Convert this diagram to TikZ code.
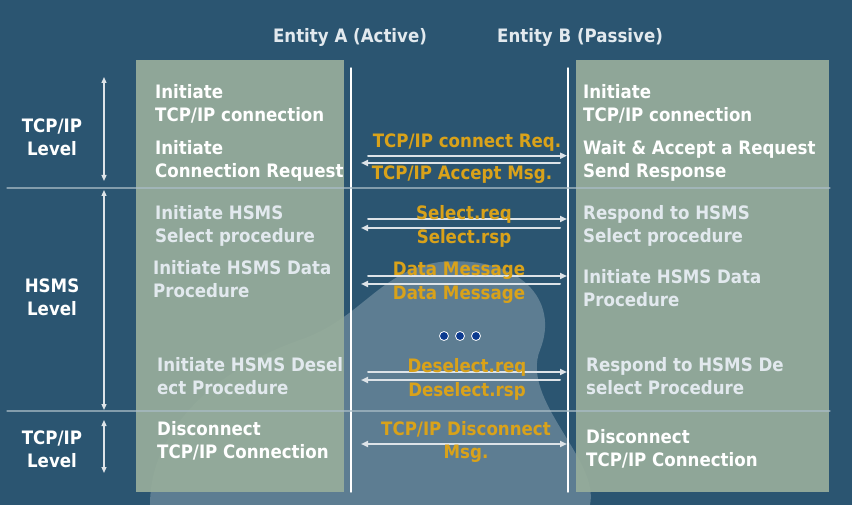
\documentclass[tikz,border=0pt]{standalone}
\usepackage{fontspec}
\setmainfont{DejaVu Sans Condensed}
\usepackage{tikz}
\usetikzlibrary{arrows.meta,positioning,calc}
\definecolor{bgblue}{HTML}{2B5571}
\definecolor{bglight}{HTML}{6E8B9E}
\definecolor{boxgreen}{HTML}{97AD9B}
\definecolor{msggold}{HTML}{D9A21A}
\definecolor{hsmsgray}{HTML}{E2E9EE}
\definecolor{arrowgray}{HTML}{DDE3E8}
\definecolor{sepgray}{HTML}{A9BCC6}
\definecolor{dotblue}{HTML}{0B3A8F}
\tikzset{
    every picture/.style={line cap=round,line join=round},
    entitybox/.style={fill=boxgreen,fill opacity=0.93,draw=none},
    lifeline/.style={draw=white,line width=1.4pt},
    sepline/.style={draw=sepgray,line width=1.3pt,opacity=0.7},
    levelarrow/.style={{Triangle[length=6pt,width=5pt]}-{Triangle[length=6pt,width=5pt]},
      draw=arrowgray,line width=1.2pt},
    msgarrow/.style={-{Triangle[length=7pt,width=6pt]},draw=arrowgray,line width=2pt},
    bigfont/.style={font=\bfseries\fontsize{18.5}{23}\selectfont},
    leveltext/.style={bigfont,text=white,align=center},
    headtext/.style={bigfont,text=hsmsgray},
    steptext/.style={bigfont,text=white,align=left,anchor=base west,inner sep=0pt},
    hsmstext/.style={steptext,text=hsmsgray},
    msgtext/.style={bigfont,text=msggold,align=center,anchor=base,inner sep=0pt},
    dot/.style={circle,fill=dotblue,draw=white,line width=0.8pt,minimum size=9pt,inner sep=0pt}
}
\begin{document}
\begin{tikzpicture}[x=1pt,y=-1pt]
  % background
  \useasboundingbox (0,0) rectangle (852,505);
  \fill[bgblue] (0,0) rectangle (852,505);
  \fill[bglight,opacity=0.75] (150,505) .. controls (150,430) and (215,370) .. (300,340)
    .. controls (360,320) and (380,270) .. (440,262)
    .. controls (520,255) and (560,300) .. (540,350)
    .. controls (520,400) and (600,460) .. (590,505) -- cycle;

  % entity boxes and lifelines
  \fill[entitybox] (136,60) rectangle (344,492);
  \fill[entitybox] (576,60) rectangle (829,492);
  \coordinate (Atop) at (351,68);
  \coordinate (Abot) at (351,492);
  \coordinate (Btop) at (568,68);
  \coordinate (Bbot) at (568,492);
  \draw[lifeline] (Atop) -- (Abot);
  \draw[lifeline] (Btop) -- (Bbot);
  \node[headtext] (entA) at (350,37) {Entity A (Active)};
  \node[headtext] (entB) at (580,37) {Entity B (Passive)};

  % level separators
  \coordinate (s1l) at (7,188);
  \coordinate (s1r) at (830,188);
  \coordinate (s2l) at (7,411);
  \coordinate (s2r) at (830,411);
  \draw[sepline] (s1l) -- (s1r);
  \draw[sepline] (s2l) -- (s2r);

  % levels
  \foreach \t/\b/\n in {77/181/1,190/410/2,420/473/3}{
    \coordinate (lv\n t) at (104,\t);
    \coordinate (lv\n b) at (104,\b);
    \draw[levelarrow] (lv\n t) -- (lv\n b);}
  \node[leveltext] (lvl1) at (52,137) {TCP/IP\\Level};
  \node[leveltext] (lvl2) at (52,297) {HSMS\\Level};
  \node[leveltext] (lvl3) at (52,449) {TCP/IP\\Level};

  % entity A steps
  \node[steptext] (a1) at (155,122) {Initiate\\TCP/IP connection};
  \node[steptext] (a2) at (155,178) {Initiate\\Connection Request};
  \node[hsmstext] (a3) at (155,243) {Initiate HSMS\\Select procedure};
  \node[hsmstext] (a4) at (153,298) {Initiate HSMS Data\\Procedure};
  \node[hsmstext] (a5) at (157,394) {Initiate HSMS Desel\\ect Procedure};
  \node[steptext] (a6) at (157,458) {Disconnect\\TCP/IP Connection};

  % entity B steps
  \node[steptext] (b1) at (583,122) {Initiate\\TCP/IP connection};
  \node[steptext] (b2) at (583,178) {Wait \& Accept a Request\\Send Response};
  \node[hsmstext] (b3) at (583,243) {Respond to HSMS\\Select procedure};
  \node[hsmstext] (b4) at (583,306) {Initiate HSMS Data\\Procedure};
  \node[hsmstext] (b5) at (586,394) {Respond to HSMS De\\select Procedure};
  \node[steptext] (b6) at (586,466) {Disconnect\\TCP/IP Connection};

  % messages
  \foreach \r/\l/\n in {155.7/163/1,219/228/2,276/284/3,372/380/4}{
    \coordinate (req\n s) at (368,\r);
    \coordinate (req\n e) at (567,\r);
    \coordinate (rsp\n s) at (560,\l);
    \coordinate (rsp\n e) at (361,\l);
    \draw[msgarrow] (req\n s) -- (req\n e);
    \draw[msgarrow] (rsp\n s) -- (rsp\n e);}
  \coordinate (discA) at (361,444);
  \coordinate (discB) at (567,444);
  \draw[msgarrow,{Triangle[length=7pt,width=6pt]}-{Triangle[length=7pt,width=6pt]}] (discA) -- (discB);
  \node[msgtext] (m1) at (467,148) {TCP/IP connect Req.};
  \node[msgtext] (m2) at (462,180) {TCP/IP Accept Msg.};
  \node[msgtext] (m3) at (464,220) {Select.req};
  \node[msgtext] (m4) at (464,244) {Select.rsp};
  \node[msgtext] (m5) at (459,276) {Data Message};
  \node[msgtext] (m6) at (459,300) {Data Message};
  \node[msgtext] (m7) at (467,372) {Deselect.req};
  \node[msgtext] (m8) at (467,396) {Deselect.rsp};
  \node[msgtext] (m9) at (466,458) {TCP/IP Disconnect\\Msg.};

  % dots
  \foreach \x [count=\i] in {444,460,476}{
    \node[dot] (dot\i) at (\x,336) {};}
\end{tikzpicture}
\end{document}
